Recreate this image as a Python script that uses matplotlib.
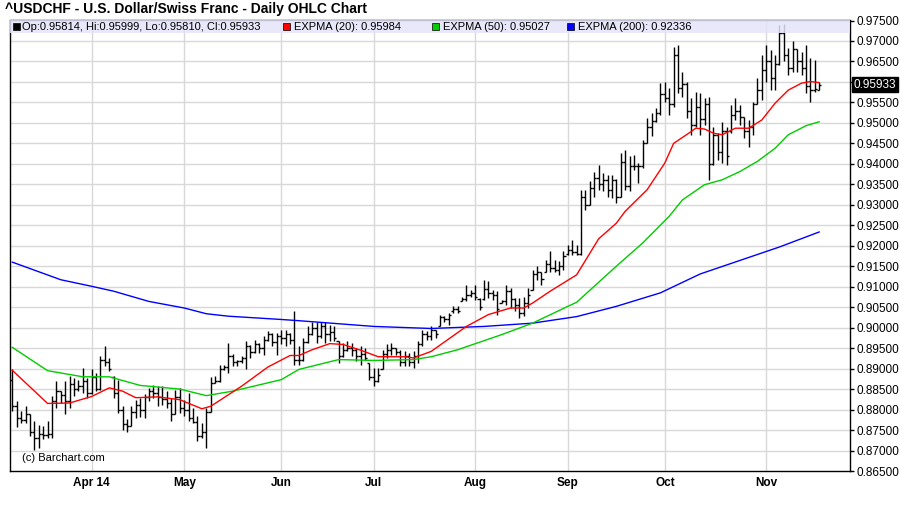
import numpy as np
import pandas as pd
import matplotlib
matplotlib.use("Agg")
import matplotlib.pyplot as plt
from matplotlib.patches import Rectangle

plt.rcParams['font.family'] = ['Liberation Sans', 'DejaVu Sans']

# trading days shown on the chart (Good Friday has no bar)
dates = pd.bdate_range("2014-03-06", "2014-11-19")
dates = dates[dates != pd.Timestamp("2014-04-18")]

opens = [0.8873, 0.8808, 0.8780, 0.8775, 0.8788, 0.8745, 0.8730, 0.8740, 0.8738, 0.8740,
         0.8822, 0.8845, 0.8835, 0.8820, 0.8862, 0.8850, 0.8858, 0.8870, 0.8840, 0.8880,
         0.8850, 0.8920, 0.8915, 0.8880, 0.8840, 0.8800, 0.8765, 0.8760, 0.8795, 0.8810,
         0.8800, 0.8830, 0.8845, 0.8840, 0.8830, 0.8825, 0.8815, 0.8790, 0.8830, 0.8805,
         0.8800, 0.8780, 0.8770, 0.8735, 0.8745, 0.8795, 0.8865, 0.8870, 0.8900, 0.8905,
         0.8930, 0.8915, 0.8918, 0.8925, 0.8955, 0.8940, 0.8960, 0.8950, 0.8970, 0.8985,
         0.8965, 0.8980, 0.8975, 0.8985, 0.8970, 0.8920, 0.8920, 0.8965, 0.8985, 0.9000,
         0.8980, 0.9005, 0.8985, 0.8990, 0.8967, 0.8930, 0.8945, 0.8950, 0.8945, 0.8930,
         0.8935, 0.8914, 0.8880, 0.8870, 0.8898, 0.8935, 0.8945, 0.8950, 0.8940, 0.8915,
         0.8930, 0.8915, 0.8930, 0.8960, 0.8985, 0.8980, 0.8995, 0.9005, 0.9025, 0.9020,
         0.9040, 0.9045, 0.9065, 0.9070, 0.9080, 0.9085, 0.9070, 0.9070, 0.9095, 0.9085,
         0.9080, 0.9060, 0.9065, 0.9090, 0.9070, 0.9055, 0.9035, 0.9060, 0.9093, 0.9130,
         0.9135, 0.9137, 0.9155, 0.9145, 0.9140, 0.9150, 0.9180, 0.9190, 0.9185, 0.9180,
         0.9320, 0.9300, 0.9340, 0.9365, 0.9350, 0.9360, 0.9335, 0.9360, 0.9320, 0.9405,
         0.9345, 0.9395, 0.9395, 0.9395, 0.9450, 0.9490, 0.9505, 0.9525, 0.9570, 0.9560,
         0.9545, 0.9665, 0.9585, 0.9595, 0.9530, 0.9495, 0.9540, 0.9510, 0.9545, 0.9400,
         0.9470, 0.9430, 0.9480, 0.9480, 0.9520, 0.9530, 0.9515, 0.9480, 0.9490, 0.9545,
         0.9580, 0.9630, 0.9650, 0.9610, 0.9645, 0.9720, 0.9665, 0.9635, 0.9680, 0.9650,
         0.9635, 0.9590, 0.9580, 0.95814]
highs = [0.8898, 0.8820, 0.8796, 0.8808, 0.8788, 0.8772, 0.8763, 0.8759, 0.8772, 0.8833,
         0.8869, 0.8845, 0.8869, 0.8881, 0.8877, 0.8873, 0.8902, 0.8877, 0.8898, 0.8889,
         0.8930, 0.8954, 0.8926, 0.8881, 0.8873, 0.8808, 0.8776, 0.8808, 0.8824, 0.8828,
         0.8837, 0.8853, 0.8861, 0.8857, 0.8857, 0.8845, 0.8828, 0.8849, 0.8853, 0.8824,
         0.8841, 0.8804, 0.8784, 0.8767, 0.8804, 0.8880, 0.8883, 0.8910, 0.8910, 0.8963,
         0.8935, 0.8922, 0.8930, 0.8967, 0.8958, 0.8971, 0.8963, 0.8979, 0.8991, 0.8987,
         0.8987, 0.8995, 0.8995, 0.8987, 0.9040, 0.8955, 0.8975, 0.9003, 0.9015, 0.9015,
         0.9015, 0.9015, 0.9007, 0.9003, 0.8967, 0.8963, 0.8967, 0.8963, 0.8950, 0.8955,
         0.8950, 0.8914, 0.8902, 0.8902, 0.8946, 0.8959, 0.8963, 0.8950, 0.8946, 0.8942,
         0.8938, 0.8942, 0.8967, 0.8995, 0.8991, 0.9003, 0.8995, 0.9032, 0.9028, 0.9036,
         0.9052, 0.9052, 0.9076, 0.9105, 0.9093, 0.9105, 0.9072, 0.9117, 0.9113, 0.9093,
         0.9089, 0.9068, 0.9105, 0.9097, 0.9072, 0.9072, 0.9076, 0.9097, 0.9142, 0.9150,
         0.9137, 0.9166, 0.9186, 0.9166, 0.9162, 0.9186, 0.9202, 0.9215, 0.9202, 0.9337,
         0.9337, 0.9357, 0.9381, 0.9398, 0.9377, 0.9373, 0.9373, 0.9362, 0.9426, 0.9434,
         0.9418, 0.9422, 0.9402, 0.9459, 0.9511, 0.9524, 0.9536, 0.9597, 0.9601, 0.9585,
         0.9686, 0.9690, 0.9625, 0.9601, 0.9560, 0.9576, 0.9572, 0.9560, 0.9564, 0.9491,
         0.9475, 0.9503, 0.9491, 0.9544, 0.9560, 0.9544, 0.9515, 0.9507, 0.9552, 0.9609,
         0.9666, 0.9690, 0.9678, 0.9666, 0.9739, 0.9741, 0.9682, 0.9700, 0.9680, 0.9674,
         0.9690, 0.9658, 0.9654, 0.95999]
lows = [0.8796, 0.8757, 0.8767, 0.8767, 0.8735, 0.8701, 0.8707, 0.8727, 0.8731, 0.8731,
        0.8804, 0.8816, 0.8788, 0.8804, 0.8833, 0.8845, 0.8841, 0.8828, 0.8837, 0.8845,
        0.8848, 0.8906, 0.8893, 0.8828, 0.8792, 0.8751, 0.8745, 0.8760, 0.8780, 0.8782,
        0.8780, 0.8820, 0.8828, 0.8808, 0.8812, 0.8804, 0.8772, 0.8788, 0.8792, 0.8784,
        0.8772, 0.8767, 0.8723, 0.8730, 0.8706, 0.8795, 0.8865, 0.8868, 0.8896, 0.8890,
        0.8906, 0.8906, 0.8914, 0.8898, 0.8926, 0.8938, 0.8938, 0.8934, 0.8967, 0.8955,
        0.8934, 0.8959, 0.8955, 0.8959, 0.8910, 0.8910, 0.8918, 0.8963, 0.8983, 0.8963,
        0.8975, 0.8963, 0.8967, 0.8967, 0.8914, 0.8928, 0.8942, 0.8930, 0.8918, 0.8910,
        0.8922, 0.8873, 0.8857, 0.8868, 0.8898, 0.8926, 0.8934, 0.8934, 0.8906, 0.8906,
        0.8906, 0.8902, 0.8914, 0.8955, 0.8971, 0.8971, 0.8975, 0.9003, 0.9015, 0.9007,
        0.9036, 0.9036, 0.9064, 0.9064, 0.9076, 0.9068, 0.9044, 0.9068, 0.9072, 0.9068,
        0.9032, 0.9060, 0.9056, 0.9048, 0.9040, 0.9024, 0.9028, 0.9048, 0.9093, 0.9117,
        0.9105, 0.9137, 0.9137, 0.9137, 0.9129, 0.9142, 0.9178, 0.9178, 0.9178, 0.9178,
        0.9288, 0.9300, 0.9320, 0.9337, 0.9333, 0.9320, 0.9316, 0.9304, 0.9318, 0.9337,
        0.9333, 0.9385, 0.9353, 0.9389, 0.9450, 0.9467, 0.9503, 0.9520, 0.9552, 0.9520,
        0.9540, 0.9572, 0.9564, 0.9511, 0.9471, 0.9490, 0.9471, 0.9495, 0.9361, 0.9398,
        0.9410, 0.9402, 0.9398, 0.9475, 0.9507, 0.9495, 0.9463, 0.9442, 0.9471, 0.9545,
        0.9556, 0.9601, 0.9580, 0.9580, 0.9641, 0.9650, 0.9617, 0.9625, 0.9625, 0.9617,
        0.9572, 0.9552, 0.9576, 0.95810]
closes = [0.8808, 0.8780, 0.8775, 0.8790, 0.8745, 0.8730, 0.8740, 0.8738, 0.8740, 0.8822,
          0.8845, 0.8835, 0.8820, 0.8862, 0.8850, 0.8858, 0.8870, 0.8840, 0.8880, 0.8850,
          0.8920, 0.8915, 0.8900, 0.8840, 0.8800, 0.8765, 0.8760, 0.8795, 0.8810, 0.8800,
          0.8830, 0.8845, 0.8840, 0.8830, 0.8825, 0.8815, 0.8790, 0.8830, 0.8805, 0.8800,
          0.8780, 0.8770, 0.8735, 0.8745, 0.8795, 0.8865, 0.8870, 0.8900, 0.8905, 0.8930,
          0.8915, 0.8918, 0.8925, 0.8955, 0.8940, 0.8960, 0.8950, 0.8970, 0.8985, 0.8965,
          0.8980, 0.8975, 0.8985, 0.8970, 0.8920, 0.8920, 0.8965, 0.8985, 0.9000, 0.8980,
          0.9005, 0.8985, 0.8990, 0.8975, 0.8930, 0.8945, 0.8950, 0.8945, 0.8930, 0.8935,
          0.8925, 0.8880, 0.8870, 0.8885, 0.8935, 0.8945, 0.8950, 0.8940, 0.8915, 0.8930,
          0.8915, 0.8930, 0.8960, 0.8985, 0.8980, 0.8995, 0.8985, 0.9025, 0.9020, 0.9030,
          0.9045, 0.9040, 0.9070, 0.9080, 0.9085, 0.9075, 0.9050, 0.9095, 0.9085, 0.9080,
          0.9045, 0.9065, 0.9090, 0.9070, 0.9055, 0.9035, 0.9060, 0.9080, 0.9130, 0.9135,
          0.9120, 0.9155, 0.9145, 0.9140, 0.9150, 0.9175, 0.9190, 0.9185, 0.9180, 0.9320,
          0.9300, 0.9340, 0.9365, 0.9350, 0.9360, 0.9335, 0.9360, 0.9320, 0.9405, 0.9345,
          0.9395, 0.9395, 0.9395, 0.9450, 0.9490, 0.9505, 0.9525, 0.9570, 0.9560, 0.9545,
          0.9665, 0.9585, 0.9595, 0.9530, 0.9495, 0.9540, 0.9510, 0.9545, 0.9400, 0.9470,
          0.9430, 0.9480, 0.9420, 0.9520, 0.9530, 0.9515, 0.9480, 0.9490, 0.9545, 0.9580,
          0.9630, 0.9650, 0.9610, 0.9645, 0.9720, 0.9665, 0.9635, 0.9680, 0.9650, 0.9635,
          0.9590, 0.9580, 0.9582, 0.95933]

# moving averages at these bar numbers
ema20_idx = [0, 8, 13, 18, 22, 25, 28, 33, 38, 43, 45, 52, 58, 63, 65, 68, 72, 75, 79, 83,
             89, 91, 95, 103, 108, 113, 116, 118, 122, 128, 133, 137, 139, 144, 148, 150,
             154, 155, 157, 159, 161, 164, 167, 170, 173, 176, 179, 181, 183]
ema20_val = [0.8896, 0.8815, 0.8816, 0.8832, 0.8853, 0.8845, 0.8829, 0.8831, 0.8824, 0.8802,
             0.8808, 0.8857, 0.8904, 0.8932, 0.8932, 0.8946, 0.8961, 0.8959, 0.8945, 0.8929,
             0.8929, 0.8926, 0.8942, 0.9003, 0.9032, 0.9048, 0.9048, 0.9060, 0.9089, 0.9129,
             0.9217, 0.9255, 0.9284, 0.9337, 0.9402, 0.9450, 0.9479, 0.9487, 0.9485, 0.9475,
             0.9471, 0.9487, 0.9487, 0.9507, 0.9548, 0.9580, 0.9597, 0.9601, 0.95984]
ema50_idx = [0, 8, 16, 22, 29, 38, 44, 50, 61, 65, 74, 82, 91, 95, 101, 111, 118, 126, 128,
             137, 143, 149, 152, 157, 161, 165, 169, 173, 176, 180, 183]
ema50_val = [0.8952, 0.8895, 0.8880, 0.8880, 0.8859, 0.8850, 0.8834, 0.8845, 0.8873, 0.8898,
             0.8922, 0.8920, 0.8922, 0.8929, 0.8946, 0.8983, 0.9011, 0.9052, 0.9062, 0.9150,
             0.9207, 0.9272, 0.9312, 0.9349, 0.9361, 0.9381, 0.9406, 0.9438, 0.9471, 0.9493,
             0.95027]
ema200_idx = [0, 11, 18, 23, 31, 39, 44, 49, 61, 65, 82, 95, 107, 118, 128, 137, 147, 156,
              174, 183]
ema200_val = [0.9160, 0.9117, 0.9101, 0.9089, 0.9064, 0.9048, 0.9034, 0.9028, 0.9020, 0.9017,
              0.9003, 0.8998, 0.9003, 0.9011, 0.9027, 0.9052, 0.9085, 0.9131, 0.9197, 0.92336]

W, H = 900, 511
fig = plt.figure(figsize=(W / 100, H / 100), dpi=100)
ax = fig.add_axes([10.3 / W, 1 - 471 / H, (850 - 10.3) / W, (471 - 20.5) / H])

x = np.arange(len(dates))
ymin, ymax = 0.865, 0.975
ax.set_xlim(-0.45, 190)
ax.set_ylim(ymin, ymax)

# grid
grid_c = '#d8d8d8'
yt = np.round(np.arange(0.865, 0.97501, 0.005), 3)
for v in yt[1:-1]:
    ax.axhline(v, color=grid_c, lw=1, zorder=1)
month_pos = []
month_lab = []
for i in range(1, len(dates)):
    if dates[i].month != dates[i - 1].month:
        month_pos.append(i)
        month_lab.append(dates[i].strftime('%b'))
month_lab[0] = month_lab[0] + ' 14'
for p in month_pos:
    ax.axvline(p, color=grid_c, lw=1, zorder=1)

# OHLC bars
ax.vlines(x, lows, highs, color='black', lw=1.0, zorder=2)
ax.hlines(opens, x - 0.5, x, color='black', lw=1.0, zorder=2)
ax.hlines(closes, x, x + 0.5, color='black', lw=1.0, zorder=2)

ax.plot(ema200_idx, ema200_val, color='#0000ff', lw=1.0, zorder=2.5)
ax.plot(ema50_idx, ema50_val, color='#00cc00', lw=1.0, zorder=2.5)
ax.plot(ema20_idx, ema20_val, color='#ff0000', lw=1.0, zorder=2.5)

# legend band inside the top of the plot
band_lo = ymax - 12.2 / 4100
ax.axhspan(band_lo, ymax, color='#e4e4fa', alpha=0.85, zorder=3, lw=0)

# the last-price box sits on top of the 0.96000 label, so that one is left blank
last = closes[-1]
ylabels = ["" if abs(v - last) < 0.0015 else f"{v:.5f}" for v in yt]
ax.set_yticks(yt)
ax.set_yticklabels(ylabels)
ax.yaxis.tick_right()
ax.tick_params(axis='y', direction='out', length=3, width=1, labelsize=8.5, pad=1.5)
ax.set_xticks(month_pos)
ax.set_xticklabels(month_lab, fontweight='bold')
ax.tick_params(axis='x', length=0, labelsize=8.5, pad=4)
for s in ax.spines.values():
    s.set_color('black')
    s.set_linewidth(1)

# last price box
ax.annotate(f"{last:.5f}", xy=(1.0, last), xycoords=('axes fraction', 'data'),
            xytext=(2.5, 0), textcoords='offset points', ha='left', va='center',
            color='white', fontsize=8.5, zorder=6, annotation_clip=False,
            bbox=dict(boxstyle='square,pad=0.15', fc='black', ec='black'))

fig.text(5 / W, 1 - 9 / H, "^USDCHF - U.S. Dollar/Swiss Franc - Daily OHLC Chart",
         fontsize=10, fontweight='bold', ha='left', va='center')

leg_y = 1 - 26.7 / H
items = [(13, 22, '#000000', f"Op:{opens[-1]:.5f}, Hi:{highs[-1]:.5f}, Lo:{lows[-1]:.5f}, Cl:{closes[-1]:.5f}"),
         (283, 294, '#ff0000', f"EXPMA (20): {ema20_val[-1]:.5f}"),
         (432, 443, '#00cc00', f"EXPMA (50): {ema50_val[-1]:.5f}"),
         (567, 578, '#0000ff', f"EXPMA (200): {ema200_val[-1]:.5f}")]
for sx, tx, col, txt in items:
    fig.add_artist(Rectangle((sx / W, 1 - 30.5 / H), 7 / W, 7 / H, transform=fig.transFigure,
                             fc=col, ec='black', lw=0.5))
    fig.text(tx / W, leg_y, txt, fontsize=8, ha='left', va='center')

fig.text(22 / W, 1 - 458 / H, "(c) Barchart.com", fontsize=8, ha='left', va='center')

fig.savefig("out.png", dpi=100)
